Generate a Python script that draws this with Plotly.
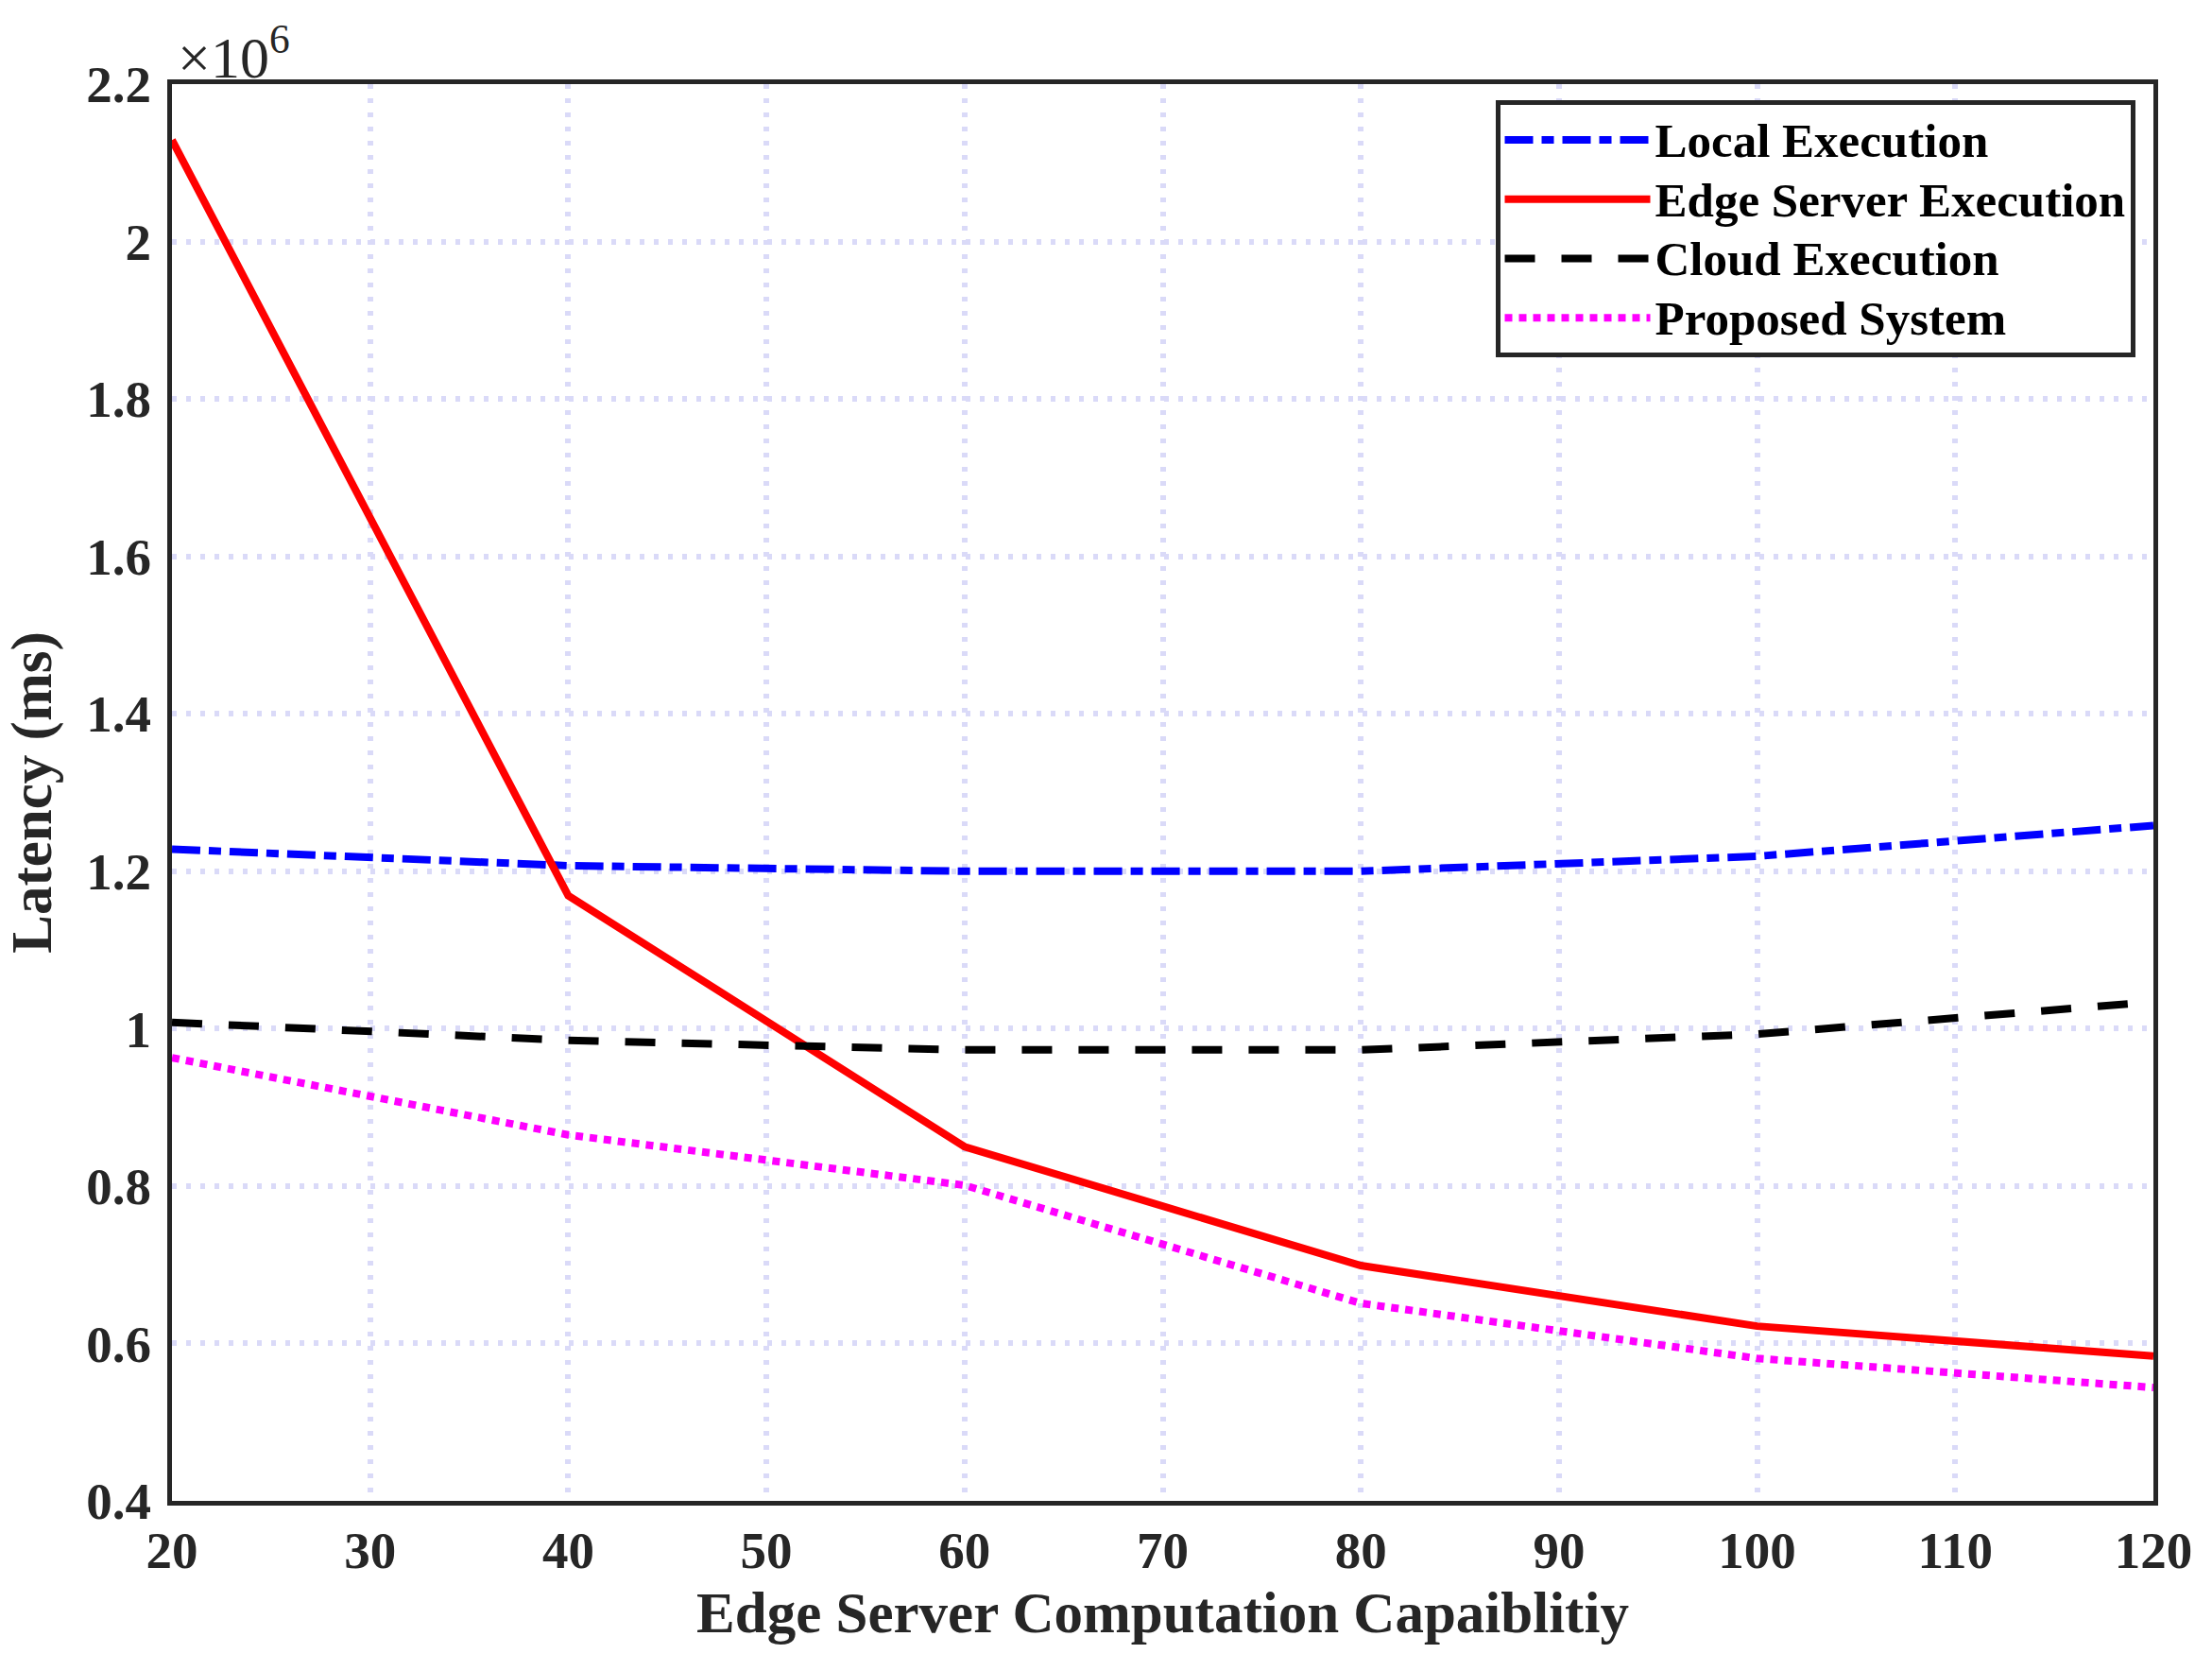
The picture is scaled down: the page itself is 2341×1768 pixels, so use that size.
import plotly.graph_objects as go

# Data (latency in units of 10^6 ms)
capability = [20, 40, 60, 80, 100, 120]
local_exec = [1.228, 1.207, 1.200, 1.200, 1.219, 1.258]
edge_exec = [2.129, 1.169, 0.850, 0.699, 0.622, 0.584]
cloud_exec = [1.008, 0.985, 0.973, 0.973, 0.993, 1.034]
proposed = [0.963, 0.865, 0.801, 0.651, 0.581, 0.544]

series_names = ["Local Execution", "Edge Server Execution", "Cloud Execution", "Proposed System"]
x_ticks = [20, 30, 40, 50, 60, 70, 80, 90, 100, 110, 120]
y_ticks = [0.4, 0.6, 0.8, 1.0, 1.2, 1.4, 1.6, 1.8, 2.0, 2.2]
y_ticktext = ["0.4", "0.6", "0.8", "1", "1.2", "1.4", "1.6", "1.8", "2", "2.2"]

TXT = "#262626"
FONT = "Liberation Serif"
W, H = 2341, 1768
ML, MR, MT, MB = 181.5, 61.5, 88.5, 179.5


def leg(name):
    return "<span style='font-size:51px'>" + name + "</span>"


fig = go.Figure()
fig.add_trace(go.Scatter(x=capability, y=local_exec, mode="lines", name=leg(series_names[0]),
                         line=dict(color="#0000FF", width=8, dash="30px,9px,13px,9px")))
fig.add_trace(go.Scatter(x=capability, y=edge_exec, mode="lines", name=leg(series_names[1]),
                         line=dict(color="#FF0000", width=8)))
fig.add_trace(go.Scatter(x=capability, y=cloud_exec, mode="lines", name=leg(series_names[2]),
                         line=dict(color="#000000", width=8, dash="32px,28px")))
fig.add_trace(go.Scatter(x=capability, y=proposed, mode="lines", name=leg(series_names[3]),
                         line=dict(color="#FF00FF", width=8, dash="8px,7px")))

axis_common = dict(
    showline=True, mirror=True, linewidth=5, linecolor=TXT,
    showgrid=True, gridcolor="#dadaf8", gridwidth=6, griddash="5px,10px",
    zeroline=False, ticks="",
    tickfont=dict(family=FONT, size=55, color=TXT, weight="bold"),
)

fig.update_xaxes(range=[20, 120], tickvals=x_ticks, ticklabelstandoff=0,
                 title=dict(text="<b>Edge Server Computation Capaiblitiy</b>",
                            font=dict(family=FONT, size=61, color=TXT), standoff=16),
                 **axis_common)
fig.update_yaxes(range=[0.4, 2.2], tickvals=y_ticks, ticktext=y_ticktext, ticklabelstandoff=6,
                 title=dict(text="<b>Latency (ms)</b>",
                            font=dict(family=FONT, size=61, color=TXT), standoff=22),
                 **axis_common)

fig.add_annotation(xref="paper", yref="paper", x=0.002, y=1.0, xanchor="left", yanchor="bottom",
                   text="×10<sup>6</sup>", showarrow=False, yshift=-8,
                   font=dict(family=FONT, size=62, color=TXT))

fig.update_layout(
    width=W, height=H,
    margin=dict(l=ML, r=MR, t=MT, b=MB, pad=0),
    plot_bgcolor="white", paper_bgcolor="white",
    font=dict(family=FONT, color=TXT),
    legend=dict(
        x=(2260 - ML) / (W - ML - MR), y=(H - MB - 106) / (H - MT - MB),
        xanchor="right", yanchor="top",
        bgcolor="white", bordercolor=TXT, borderwidth=5,
        font=dict(family=FONT, size=46, color="#000000", weight="bold"),
        itemwidth=154, tracegroupgap=0,
    ),
)

fig.write_html("out.html", config={"displayModeBar": False},
               post_script="document.body.style.margin='0';")
